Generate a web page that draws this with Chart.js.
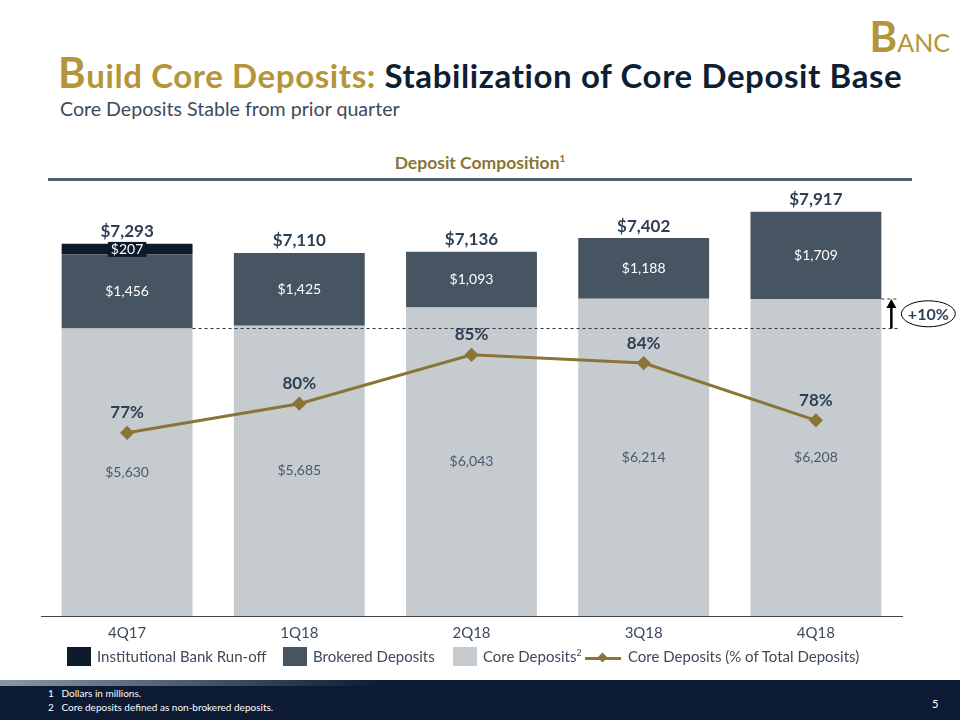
<!DOCTYPE html>
<html>
<head>
<meta charset="utf-8">
<script src="https://cdn.jsdelivr.net/npm/chart.js@4"></script>
<style>
  body { margin: 0; width: 960px; height: 720px; background: #fff; font-family: Lato, "Noto Sans", sans-serif; overflow: hidden; position: relative; }
  .banc { position: absolute; right: 10px; top: 11px; color: #B4953A; font-weight: bold; }
  .banc .big { font-size: 42px; }
  .banc .small { font-size: 25px; font-weight: normal; }
  .title { position: absolute; left: 58px; top: 47px; font-size: 33px; letter-spacing: 0.6px; font-weight: bold; color: #0F1F33; white-space: nowrap; }
  .title .gold { color: #B4953A; }
  .title .cap { font-size: 42px; }
  .sub { position: absolute; left: 60px; top: 97px; font-size: 19.6px; color: #3D4A5A; }
  .ctitle { position: absolute; left: 0; width: 960px; top: 152px; text-align: center; font-size: 17.5px; font-weight: bold; color: #8B7536; }
  .ctitle sup { font-size: 10px; }
  .rule { position: absolute; left: 48px; width: 864px; top: 178px; height: 3px; background: #56616D; }
  #wrap { position: absolute; left: 0; top: 150px; width: 960px; height: 500px; }
  .legend { position: absolute; top: 647px; left: 0; width: 960px; font-size: 15px; color: #3D4A5A; }
  .legend span { position: absolute; white-space: nowrap; }
  .legend i { display: inline-block; width: 24px; height: 19px; vertical-align: -4px; margin-right: 6px; }
  .legend sup { font-size: 9px; }
  .legend .ln { position: absolute; left: 585px; top: 10px; width: 36px; height: 3px; background: #8B7536; }
  .legend .dm { position: absolute; left: 599px; top: 7px; width: 7px; height: 7px; background: #8B7536; transform: rotate(45deg); }
  .footer { position: absolute; left: 0; top: 680px; width: 960px; height: 40px; background: #0C1A33; color: #fff; font-size: 10px; }
  .footer .band { position: absolute; left: 0; top: 0; width: 960px; height: 6px; background: linear-gradient(90deg, #8A97A8, #0C1A33 40%); }
  .footer .n1 { position: absolute; left: 48px; top: 7px; }
  .footer .n2 { position: absolute; left: 48px; top: 21px; }
  .footer .pg { position: absolute; left: 932px; top: 17px; font-size: 11px; }
</style>
</head>
<body>
<div class="banc"><span class="big">B</span><span class="small">ANC</span></div>
<div class="title"><span class="gold"><span class="cap">B</span>uild Core Deposits:</span> Stabilization of Core Deposit Base</div>
<div class="sub">Core Deposits Stable from prior quarter</div>
<div class="ctitle">Deposit Composition<sup>1</sup></div>
<div class="rule"></div>
<div id="wrap"><canvas id="c"></canvas></div>
<div class="legend">
  <span style="left:67px"><i style="background:#0C1A2B"></i>Institutional Bank Run-off</span>
  <span style="left:283px"><i style="background:#475563"></i>Brokered Deposits</span>
  <span style="left:453px"><i style="background:#C5CBCF"></i>Core Deposits<sup>2</sup></span>
  <div class="ln"></div><div class="dm"></div>
  <span style="left:628px">Core Deposits (% of Total Deposits)</span>
</div>
<div class="footer">
  <div class="band"></div>
  <div class="n1">1&nbsp;&nbsp;&nbsp;Dollars in millions.</div>
  <div class="n2">2&nbsp;&nbsp;&nbsp;Core deposits defined as non-brokered deposits.</div>
  <div class="pg">5</div>
</div>
<script>
const quarters = ['4Q17', '1Q18', '2Q18', '3Q18', '4Q18'];
const coreDeposits = [5630, 5685, 6043, 6214, 6208];
const brokeredDeposits = [1456, 1425, 1093, 1188, 1709];
const institutionalRunoff = [207, null, null, null, null];
const corePct = [77.2, 80.0, 84.7, 83.9, 78.4];

const gold = '#8B7536';

function money(v) {
	return '$' + v.toLocaleString('en-US');
}

const labelPlugin = {
	id: 'labels',
	afterDatasetsDraw(chart) {
		const ctx = chart.ctx;
		const y = chart.scales.y;
		const coreMeta = chart.getDatasetMeta(0);
		const lineMeta = chart.getDatasetMeta(3);
		ctx.save();
		ctx.textAlign = 'center';
		ctx.textBaseline = 'middle';

		quarters.forEach((q, i) => {
			const x = coreMeta.data[i].x;
			// core label
			ctx.font = '14px Lato, sans-serif';
			ctx.fillStyle = '#4A596B';
			const cTop = y.getPixelForValue(coreDeposits[i]);
			ctx.fillText(money(coreDeposits[i]), x, (cTop + y.getPixelForValue(0)) / 2);
			// brokered label
			ctx.fillStyle = '#fff';
			const bTop = y.getPixelForValue(coreDeposits[i] + brokeredDeposits[i]);
			ctx.fillText(money(brokeredDeposits[i]), x, (cTop + bTop) / 2);
			// institutional label
			let total = coreDeposits[i] + brokeredDeposits[i];
			if (institutionalRunoff[i]) {
				total += institutionalRunoff[i];
				const iTop = y.getPixelForValue(total);
				const t = money(institutionalRunoff[i]);
				const w = ctx.measureText(t).width + 6;
				ctx.fillStyle = '#0C1A2B';
				ctx.fillRect(x - w / 2, (iTop + bTop) / 2 - 7, w, 15);
				ctx.fillStyle = '#fff';
				ctx.fillText(t, x, (iTop + bTop) / 2 + 0.5);
			}
			// total
			ctx.font = 'bold 17px Lato, sans-serif';
			ctx.fillStyle = '#2E3F55';
			ctx.fillText(money(total), x, y.getPixelForValue(total) - 12);
			// pct
			const p = lineMeta.data[i];
			ctx.fillText(Math.round(corePct[i]) + '%', p.x, p.y - 20);
		});

		// dashed reference line from first core level and growth arrow
		const y0 = y.getPixelForValue(coreDeposits[0]);
		const y4 = y.getPixelForValue(coreDeposits[4]);
		const barR = coreMeta.data[0].x + coreMeta.data[0].width / 2;
		const lastR = coreMeta.data[4].x + coreMeta.data[4].width / 2;
		ctx.strokeStyle = '#333';
		ctx.lineWidth = 1;
		ctx.setLineDash([3, 3]);
		ctx.beginPath();
		ctx.moveTo(barR, y0); ctx.lineTo(lastR + 17, y0);
		ctx.moveTo(lastR, y4); ctx.lineTo(lastR + 17, y4);
		ctx.stroke();
		ctx.setLineDash([]);
		const ax = lastR + 10;
		ctx.strokeStyle = '#000';
		ctx.lineWidth = 2.5;
		ctx.beginPath();
		ctx.moveTo(ax, y0); ctx.lineTo(ax, y4 + 6);
		ctx.stroke();
		ctx.fillStyle = '#000';
		ctx.beginPath();
		ctx.moveTo(ax, y4); ctx.lineTo(ax - 5, y4 + 9); ctx.lineTo(ax + 5, y4 + 9);
		ctx.closePath(); ctx.fill();
		const ey = (y0 + y4) / 2;
		ctx.lineWidth = 1;
		ctx.beginPath();
		ctx.ellipse(ax + 37, ey, 27, 13, 0, 0, Math.PI * 2);
		ctx.stroke();
		ctx.font = 'bold 16px Lato, sans-serif';
		ctx.fillStyle = '#2E3F55';
		ctx.fillText('+10%', ax + 37, ey + 1);
		ctx.restore();
	}
};

new Chart(document.getElementById('c'), {
	data: {
		labels: quarters,
		datasets: [
			{ type: 'bar', label: 'Core Deposits', data: coreDeposits, backgroundColor: '#C5CBCF', stack: 's', order: 1 },
			{ type: 'bar', label: 'Brokered Deposits', data: brokeredDeposits, backgroundColor: '#475563', stack: 's', order: 1 },
			{ type: 'bar', label: 'Institutional Bank Run-off', data: institutionalRunoff, backgroundColor: '#0C1A2B', stack: 's', order: 1 },
			{ type: 'line', label: 'Core Deposits (% of Total Deposits)', data: corePct, yAxisID: 'y1', borderColor: gold, backgroundColor: gold, borderWidth: 3, pointStyle: 'rectRot', pointRadius: 5, tension: 0, order: 0 }
		]
	},
	options: {
		responsive: true,
		maintainAspectRatio: false,
		animation: false,
		layout: { padding: { left: 41, right: 58, top: 32, bottom: 0 } },
		datasets: { bar: { barPercentage: 0.76, categoryPercentage: 1 } },
		plugins: { legend: { display: false }, tooltip: { enabled: false } },
		scales: {
			x: {
				stacked: true,
				grid: { display: false, drawTicks: false },
				border: { display: true, color: '#444', width: 1 },
				ticks: { color: '#3D4A5A', font: { family: 'Lato', size: 15 }, padding: 8 }
			},
			y: { stacked: true, display: false, min: 0, max: 8500 },
			y1: { display: false, min: 59.6, max: 101.3 }
		}
	},
	plugins: [labelPlugin]
});
</script>
</body>
</html>
